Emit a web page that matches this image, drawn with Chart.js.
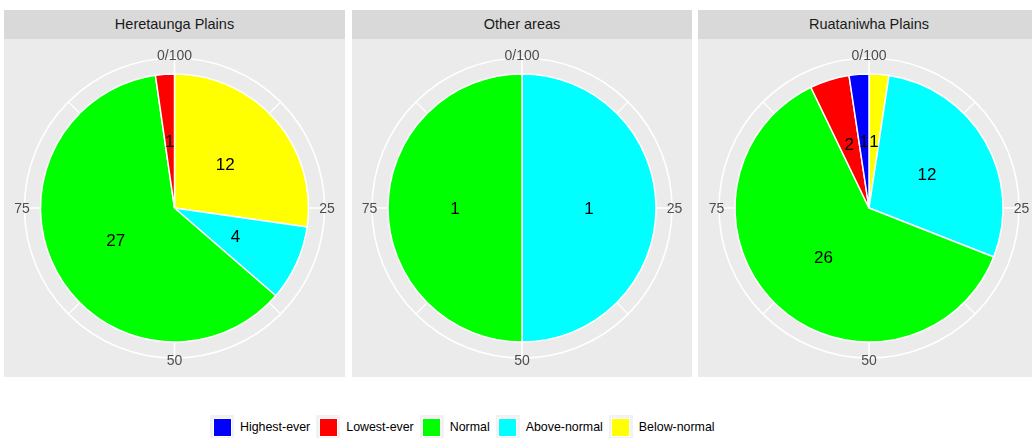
<!DOCTYPE html>
<html>
<head>
<meta charset="utf-8">
<script src="https://cdn.jsdelivr.net/npm/chart.js@4"></script>
<style>
    body { margin: 0; width: 1032px; height: 438px; background: #FFFFFF; overflow: hidden; position: relative;
           font-family: 'Liberation Sans', Arial, sans-serif; }
    .panel { position: absolute; top: 10px; height: 367px; background: #EBEBEB; }
    .strip { height: 29px; line-height: 29px; background: #D9D9D9; color: #1A1A1A; font-size: 14.5px; text-align: center; }
    .panel canvas { display: block; }
    #legend { position: absolute; left: 210px; top: 415px; display: flex; align-items: center; font-size: 12.4px; color: #000; }
    .key { width: 24px; height: 24px; background: #F2F2F2; display: flex; align-items: center; justify-content: center; }
    .key span { width: 19px; height: 19px; border: 0.5px solid #FFFFFF; box-sizing: border-box; }
    .lbl { margin: 0 6px 0 6px; }
</style>
</head>
<body>
<div id="panels"></div>
<div id="legend"></div>
<script>
// categories, in legend order
const categories = ['Highest-ever', 'Lowest-ever', 'Normal', 'Above-normal', 'Below-normal'];
const categoryColours = ['#0000FF', '#FF0000', '#00FF00', '#00FFFF', '#FFFF00'];

// facets
const areas = ['Heretaunga Plains', 'Other areas', 'Ruataniwha Plains'];

// counts per area
const highestEver = [0, 0, 1];
const lowestEver = [1, 0, 2];
const normal = [27, 1, 26];
const aboveNormal = [4, 1, 12];
const belowNormal = [12, 0, 1];

// polar axis ticks (percent of the circle)
const thetaBreaks = [0, 25, 50, 75];
const thetaLabels = ['0/100', '25', '50', '75'];
const thetaMinor = [12.5, 37.5, 62.5, 87.5];

const seriesByCategory = [highestEver, lowestEver, normal, aboveNormal, belowNormal];
// slices run clockwise from the top in reverse legend order
const stackOrder = [4, 3, 2, 1, 0];

const panelLeft = [4, 352, 698];
const panelWidth = [341, 340, 342];

const PIE_RADIUS = 134;
const GRID_RADIUS = 150;
const LABEL_RADIUS = 152.5;

function polarPoint(cx, cy, r, pct) {
    const a = -Math.PI / 2 + 2 * Math.PI * pct / 100;
    return { x: cx + r * Math.cos(a), y: cy + r * Math.sin(a) };
}

const polarGrid = {
    id: 'polarGrid',
    beforeDatasetsDraw(chart) {
        const { ctx, chartArea } = chart;
        const cx = (chartArea.left + chartArea.right) / 2;
        const cy = (chartArea.top + chartArea.bottom) / 2;
        ctx.save();
        ctx.strokeStyle = '#FFFFFF';
        ctx.lineWidth = 1.6;
        ctx.beginPath();
        ctx.arc(cx, cy, GRID_RADIUS, 0, Math.PI * 2);
        ctx.stroke();
        thetaBreaks.concat(thetaMinor).forEach(function(p, i) {
            const end = polarPoint(cx, cy, GRID_RADIUS, p);
            ctx.lineWidth = i < thetaBreaks.length ? 1.6 : 1.3;
            ctx.beginPath();
            ctx.moveTo(cx, cy);
            ctx.lineTo(end.x, end.y);
            ctx.stroke();
        });
        ctx.restore();
    },
    afterDatasetsDraw(chart) {
        const { ctx, chartArea } = chart;
        const cx = (chartArea.left + chartArea.right) / 2;
        const cy = (chartArea.top + chartArea.bottom) / 2;
        ctx.save();
        ctx.textAlign = 'center';
        ctx.textBaseline = 'middle';
        ctx.font = '14px "Liberation Sans", Arial, sans-serif';
        ctx.fillStyle = '#4D4D4D';
        thetaBreaks.forEach(function(p, i) {
            const pt = polarPoint(cx, cy, LABEL_RADIUS, p);
            ctx.fillText(thetaLabels[i], pt.x, pt.y + 1);
        });
        // slice counts
        ctx.font = '17px "Liberation Sans", Arial, sans-serif';
        ctx.fillStyle = '#000000';
        const meta = chart.getDatasetMeta(0);
        const values = chart.data.datasets[0].data;
        meta.data.forEach(function(arc, i) {
            if (!values[i]) return;
            const c = arc.getCenterPoint();
            ctx.fillText(String(values[i]), c.x, c.y + 1);
        });
        ctx.restore();
    }
};

const panelsEl = document.getElementById('panels');
areas.forEach(function(area, a) {
    const panel = document.createElement('div');
    panel.className = 'panel';
    panel.style.left = panelLeft[a] + 'px';
    panel.style.width = panelWidth[a] + 'px';
    const strip = document.createElement('div');
    strip.className = 'strip';
    strip.textContent = area;
    panel.appendChild(strip);
    const canvas = document.createElement('canvas');
    canvas.width = panelWidth[a];
    canvas.height = 338;
    canvas.style.width = panelWidth[a] + 'px';
    canvas.style.height = '338px';
    panel.appendChild(canvas);
    panelsEl.appendChild(panel);

    new Chart(canvas.getContext('2d'), {
        type: 'pie',
        data: {
            labels: stackOrder.map(function(k) { return categories[k]; }),
            datasets: [{
                data: stackOrder.map(function(k) { return seriesByCategory[k][a]; }),
                backgroundColor: stackOrder.map(function(k) { return categoryColours[k]; }),
                borderColor: '#FFFFFF',
                borderWidth: 1.5,
                radius: PIE_RADIUS
            }]
        },
        options: {
            responsive: false,
            animation: false,
            layout: { padding: 0 },
            plugins: {
                legend: { display: false },
                tooltip: { enabled: false }
            }
        },
        plugins: [polarGrid]
    });
});

// legend
const legendEl = document.getElementById('legend');
categories.forEach(function(name, i) {
    const key = document.createElement('div');
    key.className = 'key';
    const sw = document.createElement('span');
    sw.style.background = categoryColours[i];
    key.appendChild(sw);
    const lbl = document.createElement('div');
    lbl.className = 'lbl';
    lbl.textContent = name;
    legendEl.appendChild(key);
    legendEl.appendChild(lbl);
});
</script>
</body>
</html>
